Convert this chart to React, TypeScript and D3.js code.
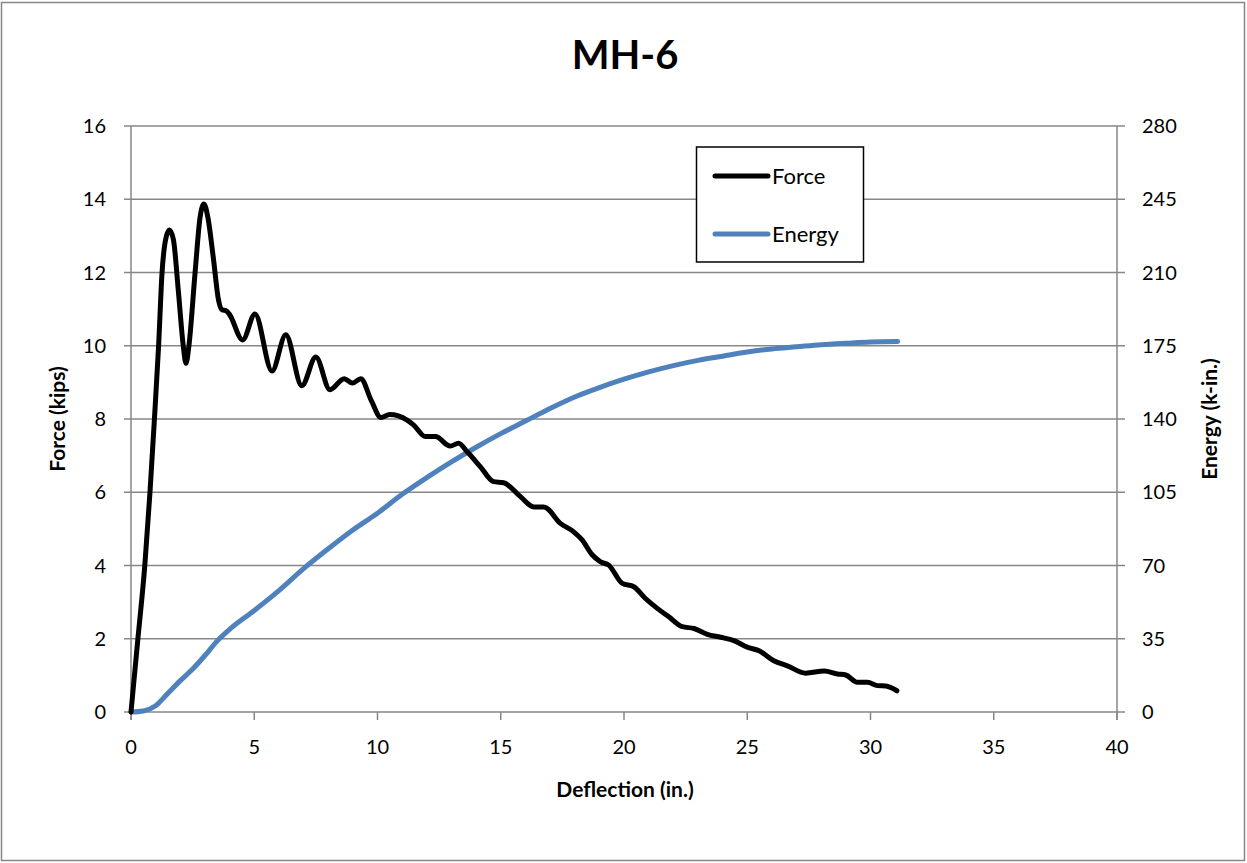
import React from "react";
import * as d3 from "d3";

const forceDefl = [0, 0.28, 0.56, 0.77, 0.95, 1.12, 1.26, 1.42, 1.56, 1.72, 1.92, 2.12, 2.23, 2.35, 2.6, 2.8, 2.96, 3.12, 3.34, 3.55, 3.7, 3.85, 4.0, 4.53, 5.03, 5.72, 6.28, 6.93, 7.5, 8.07, 8.65, 8.99, 9.32, 9.75, 10.14, 10.5, 11.2, 11.46, 11.94, 12.35, 12.95, 13.29, 13.63, 14.17, 14.71, 15.12, 15.8, 16.34, 16.75, 17.42, 17.96, 18.3, 18.7, 19.05, 19.38, 19.93, 20.4, 20.87, 21.35, 21.82, 22.36, 22.84, 23.38, 23.92, 24.46, 25.0, 25.48, 26.08, 26.63, 27.37, 28.12, 28.66, 29.0, 29.47, 29.88, 30.28, 30.62, 31.07];
const forceVals = [0, 2.0, 4.0, 6.0, 8.0, 10.0, 12.0, 12.95, 13.16, 12.9, 11.5, 10.0, 9.52, 10.0, 12.0, 13.5, 13.87, 13.5, 12.4, 11.25, 10.98, 10.96, 10.85, 10.16, 10.87, 9.31, 10.3, 8.91, 9.69, 8.8, 9.1, 8.98, 9.1, 8.5, 8.04, 8.12, 7.97, 7.84, 7.52, 7.52, 7.26, 7.34, 7.11, 6.7, 6.29, 6.26, 5.88, 5.6, 5.6, 5.15, 4.92, 4.7, 4.3, 4.1, 4.01, 3.51, 3.42, 3.1, 2.83, 2.6, 2.33, 2.28, 2.12, 2.04, 1.95, 1.77, 1.67, 1.4, 1.26, 1.06, 1.12, 1.04, 1.01, 0.81, 0.81, 0.72, 0.71, 0.58];

const energyDefl = [0, 0.5, 1, 1.5, 2, 2.5, 3, 3.5, 4, 5, 6, 7, 8, 9, 10, 11, 12, 13, 14, 15, 16, 17, 18, 19, 20, 21, 22, 23, 24, 25, 26, 27, 28, 29, 30, 31.1];
const energyVals = [0, 0.5, 3, 9, 15, 20.5, 27, 34, 39.5, 48.5, 58, 68.5, 78, 87, 95, 104, 112, 119.5, 126.5, 133, 139, 145, 150.5, 155, 159, 162.5, 165.5, 168, 170, 172, 173.5, 174.5, 175.5, 176.2, 176.8, 177];

const xTicks = [0, 5, 10, 15, 20, 25, 30, 35, 40];
const leftTicks = [0, 2, 4, 6, 8, 10, 12, 14, 16];
const rightTicks = [0, 35, 70, 105, 140, 175, 210, 245, 280];

const FONT = "Lato, 'Open Sans', sans-serif";

export default function App() {
  const W = 1247, H = 863;
  const x = d3.scaleLinear().domain([0, 40]).range([131, 1117]);
  const yL = d3.scaleLinear().domain([0, 16]).range([712, 126]);
  const yR = d3.scaleLinear().domain([0, 280]).range([712, 126]);
  const gridColor = "#878787";

  const forceData = forceDefl.map((d, i) => [d, forceVals[i]] as [number, number]);
  const energyData = energyDefl.map((d, i) => [d, energyVals[i]] as [number, number]);

  const forceLine = d3.line<[number, number]>()
    .x(d => x(d[0])).y(d => yL(d[1]))
    .curve(d3.curveMonotoneX);
  const energyLine = d3.line<[number, number]>()
    .x(d => x(d[0])).y(d => yR(d[1]))
    .curve(d3.curveMonotoneX);

  return (
    <div style={{ position: "absolute", left: 0, top: 0 }}>
      <svg width={W} height={H} style={{ display: "block", background: "#fff" }} fontFamily={FONT}>
        <rect x={1.5} y={2.5} width={1243} height={858} fill="#fff" stroke="#878787" strokeWidth={1.5} />
        <text x={625} y={69} textAnchor="middle" fontSize={40} fontWeight="bold" fill="#000">MH-6</text>

        {leftTicks.map(t => (
          <line key={"g" + t} x1={124} x2={1125} y1={yL(t)} y2={yL(t)} stroke={gridColor} strokeWidth={1.5} />
        ))}
        <line x1={x(0)} x2={x(0)} y1={126} y2={720} stroke={gridColor} strokeWidth={1.5} />
        <line x1={x(40)} x2={x(40)} y1={126} y2={720} stroke={gridColor} strokeWidth={1.5} />
        {xTicks.map(t => (
          <line key={"xt" + t} x1={x(t)} x2={x(t)} y1={712} y2={720} stroke={gridColor} strokeWidth={1.5} />
        ))}

        {leftTicks.map(t => (
          <text key={"lt" + t} x={106} y={yL(t)} dy="0.35em" textAnchor="end" fontSize={20} fill="#000">{t}</text>
        ))}
        {rightTicks.map(t => (
          <text key={"rt" + t} x={1142} y={yR(t)} dy="0.35em" textAnchor="start" fontSize={20} fill="#000">{t}</text>
        ))}
        {xTicks.map(t => (
          <text key={"bt" + t} x={x(t)} y={747} dy="0.35em" textAnchor="middle" fontSize={20} fill="#000">{t}</text>
        ))}

        <text x={625} y={797} textAnchor="middle" fontSize={21} fontWeight="bold" fill="#000">Deflection (in.)</text>
        <text transform="translate(65,419) rotate(-90)" textAnchor="middle" fontSize={21} fontWeight="bold" fill="#000">Force (kips)</text>
        <text transform="translate(1217,419) rotate(-90)" textAnchor="middle" fontSize={21} fontWeight="bold" fill="#000">Energy (k-in.)</text>

        <path d={energyLine(energyData) || ""} fill="none" stroke="#4f81bd" strokeWidth={5} strokeLinecap="round" strokeLinejoin="round" />
        <path d={forceLine(forceData) || ""} fill="none" stroke="#000" strokeWidth={5} strokeLinecap="round" strokeLinejoin="round" />

        <rect x={696.5} y={147} width={167} height={115} fill="#fff" stroke="#000" strokeWidth={1.5} />
        <line x1={715} x2={768} y1={176} y2={176} stroke="#000" strokeWidth={5} strokeLinecap="round" />
        <text x={772} y={176} dy="0.35em" fontSize={22} fill="#000">Force</text>
        <line x1={715} x2={768} y1={234} y2={234} stroke="#4f81bd" strokeWidth={5} strokeLinecap="round" />
        <text x={772} y={234} dy="0.35em" fontSize={22} fill="#000">Energy</text>
      </svg>
    </div>
  );
}
